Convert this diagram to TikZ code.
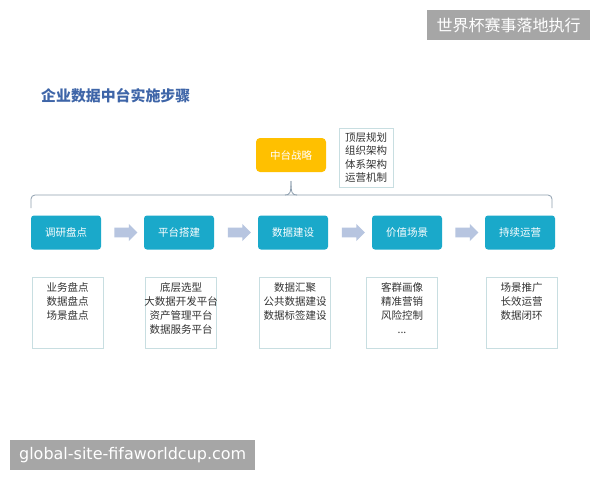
\documentclass[tikz,border=0pt]{standalone}
\usepackage{fontspec}
\setmainfont{Liberation Sans}
\newfontfamily\cjk{Noto Sans CJK SC}
\newfontfamily\wmfont{DejaVu Sans}
\usetikzlibrary{shapes.arrows,calc}
\definecolor{stepblue}{HTML}{1AA9CA}
\definecolor{stratorange}{HTML}{FFC000}
\definecolor{arrowblue}{HTML}{B7C5E0}
\definecolor{wmgray}{HTML}{A6A6A6}
\definecolor{titleblue}{HTML}{3E65A8}
\definecolor{boxline}{HTML}{C8DEE1}
\definecolor{bracegray}{HTML}{8E9FAF}
\definecolor{bodytext}{HTML}{333333}
\begin{document}
\begin{tikzpicture}[x=1pt,y=-1pt,
  wmark/.style={fill=wmgray,text=white,inner sep=0pt,anchor=north west},
  stepbox/.style={fill=stepblue,text=white,rounded corners=3pt,minimum width=70pt,minimum height=34pt,inner sep=0pt,font=\cjk\fontsize{10.5}{12}\selectfont},
  stratbox/.style={fill=stratorange,text=white,rounded corners=4pt,minimum width=70pt,minimum height=34pt,inner sep=0pt,font=\cjk\fontsize{10.5}{12}\selectfont},
  detailbox/.style={draw=boxline,line width=0.9pt,minimum width=71pt,minimum height=71pt,inner sep=0pt},
  detailtext/.style={text=bodytext,align=center,inner sep=0pt,anchor=north,font=\cjk\fontsize{10.5}{14}\selectfont},
  blockarrow/.style={single arrow,fill=arrowblue,draw=none,minimum height=23pt,inner xsep=0pt,inner ysep=4.75pt,single arrow head extend=3.75pt},
  brace/.style={draw=bracegray,line width=0.8pt}
]
\useasboundingbox (0,0) rectangle (600,480);
\fill[white] (0,0) rectangle (600,480);

% watermarks
\node[wmark,minimum width=163pt,minimum height=30pt] (wmtop) at (427,10) {\cjk\fontsize{16}{16}\selectfont 世界杯赛事落地执行};
\node[wmark,minimum width=245pt,minimum height=30pt] (wmbot) at (10,440) {\wmfont\fontsize{16}{16}\selectfont global-site-fifaworldcup.com};

% title
\node[anchor=west,inner sep=0pt,text=titleblue] (title) at (41,96) {\cjk\bfseries\fontsize{14.9}{15}\selectfont 企业数据中台实施步骤};

% strategy
\node[stratbox] (strat) at (291,155) {中台战略};
\node[draw=boxline,line width=0.8pt,minimum width=54pt,minimum height=59pt,inner sep=0pt,align=center,text=bodytext,font=\cjk\fontsize{10.5}{13.6}\selectfont] (stratnote) at (366,157.5) {顶层规划\\组织架构\\体系架构\\运营机制};

% brace
\coordinate (brL) at (31,208);
\coordinate (brR) at (552,208);
\coordinate (brT) at (291,181);
\draw[brace,rounded corners=4pt] (brL) -- (31,195) -- (552,195) -- (brR);
\draw[brace] (285,195) .. controls (290,195) and (291,193) .. (brT);
\draw[brace] (297,195) .. controls (292,195) and (291,193) .. (brT);

% steps
\node[stepbox] (s1) at (66,232.5) {调研盘点};
\node[stepbox] (s2) at (179,232.5) {平台搭建};
\node[stepbox] (s3) at (293,232.5) {数据建设};
\node[stepbox] (s4) at (407,232.5) {价值场景};
\node[stepbox] (s5) at (520,232.5) {持续运营};

\node[blockarrow] (a1) at ($(s1.east)!0.5!(s2.west)+(1,0)$) {};
\node[blockarrow] (a2) at ($(s2.east)!0.5!(s3.west)+(1,0)$) {};
\node[blockarrow] (a3) at ($(s3.east)!0.5!(s4.west)+(1,0)$) {};
\node[blockarrow] (a4) at ($(s4.east)!0.5!(s5.west)+(1,0)$) {};

% detail boxes
\node[detailbox] (d1) at (67.5,312.5) {};
\node[detailbox] (d2) at (181,312.5) {};
\node[detailbox] (d3) at (295,312.5) {};
\node[detailbox] (d4) at (402,312.5) {};
\node[detailbox] (d5) at (521.5,312.5) {};

\node[detailtext] (t1) at ($(d1.north)+(0,6)$) {业务盘点\\数据盘点\\场景盘点};
\node[detailtext] (t2) at ($(d2.north)+(0,6)$) {底层选型\\大数据开发平台\\资产管理平台\\数据服务平台};
\node[detailtext] (t3) at ($(d3.north)+(0,6)$) {数据汇聚\\公共数据建设\\数据标签建设};
\node[detailtext] (t4) at ($(d4.north)+(0,6)$) {客群画像\\精准营销\\风险控制\\...};
\node[detailtext] (t5) at ($(d5.north)+(0,6)$) {场景推广\\长效运营\\数据闭环};
\end{tikzpicture}
\end{document}
